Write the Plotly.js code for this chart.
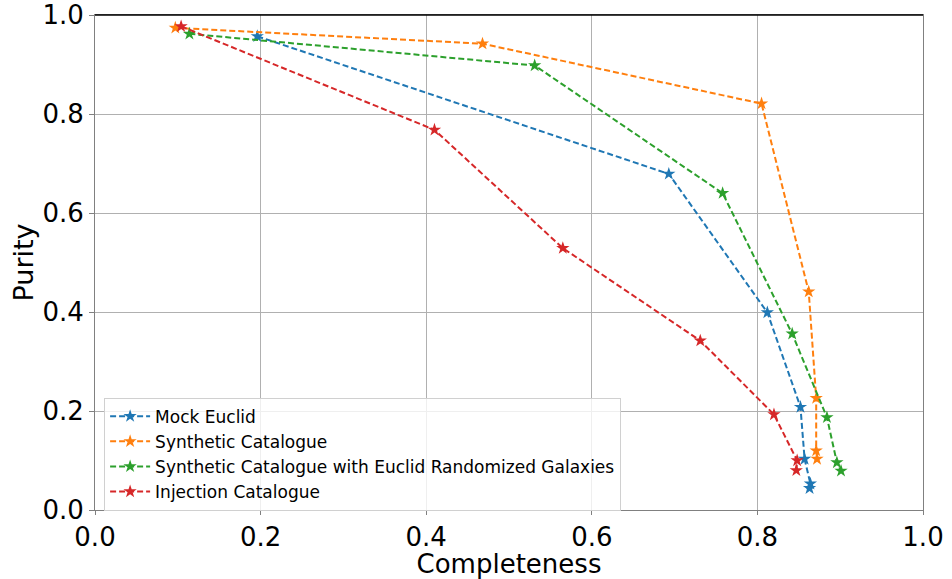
<!DOCTYPE html>
<html>
<head>
<meta charset="utf-8">
<script src="https://cdn.plot.ly/plotly-3.0.1.min.js"></script>
<style>html,body{margin:0;padding:0;background:#fff;}#chart{width:952px;height:579px;}</style>
</head>
<body>
<div id="chart"></div>
<script>
// Series names
const seriesNames = ["Mock Euclid", "Synthetic Catalogue", "Synthetic Catalogue with Euclid Randomized Galaxies", "Injection Catalogue"];
const seriesColors = ["#1f77b4", "#ff7f0e", "#2ca02c", "#d62728"];

// Completeness (x) and Purity (y) values
const mockX = [0.196, 0.693, 0.812, 0.852, 0.857, 0.864, 0.863];
const mockY = [0.957, 0.679, 0.399, 0.208, 0.103, 0.053, 0.044];

const synthX = [0.097, 0.468, 0.805, 0.862, 0.871, 0.871, 0.872];
const synthY = [0.974, 0.942, 0.821, 0.441, 0.226, 0.120, 0.103];

const synthRandX = [0.114, 0.531, 0.758, 0.842, 0.884, 0.896, 0.901];
const synthRandY = [0.962, 0.898, 0.640, 0.356, 0.187, 0.096, 0.079];

const injX = [0.104, 0.410, 0.565, 0.731, 0.820, 0.848, 0.847];
const injY = [0.977, 0.768, 0.529, 0.342, 0.193, 0.100, 0.080];

const xs = [mockX, synthX, synthRandX, injX];
const ys = [mockY, synthY, synthRandY, injY];

const xTicks = [0, 0.2, 0.4, 0.6, 0.8, 1.0];
const xTickText = ["0.0", "0.2", "0.4", "0.6", "0.8", "1.0"];
const yTicks = [0, 0.2, 0.4, 0.6, 0.8, 1.0];
const yTickText = ["0.0", "0.2", "0.4", "0.6", "0.8", "1.0"];

const traces = seriesNames.map((name, i) => ({
  type: 'scatter',
  mode: 'lines+markers',
  name: name,
  x: xs[i],
  y: ys[i],
  line: {color: seriesColors[i], width: 2, dash: '6px,3px'},
  marker: {symbol: 'star', size: 10, color: seriesColors[i], line: {width: 0}},
  cliponaxis: false
}));

const font = "DejaVu Sans, sans-serif";

const layout = {
  width: 952,
  height: 579,
  margin: {l: 95, r: 29, t: 15, b: 69},
  paper_bgcolor: '#ffffff',
  plot_bgcolor: '#ffffff',
  font: {family: font, color: '#000'},
  showlegend: true,
  legend: {
    x: 0.011, y: 0.227, xanchor: 'left', yanchor: 'top',
    bgcolor: 'rgba(255,255,255,0.8)',
    bordercolor: '#d0d0d0', borderwidth: 1,
    font: {family: font, size: 17, color: '#000'},
    tracegroupgap: 0,
    itemwidth: 40
  },
  xaxis: {
    range: [0, 1],
    tickvals: xTicks, ticktext: xTickText,
    tickfont: {family: font, size: 26},
    title: {text: 'Completeness', font: {family: font, size: 26}, standoff: 2},
    showgrid: true, gridcolor: '#b0b0b0', gridwidth: 1,
    zeroline: false,
    showline: true, linecolor: '#808080', linewidth: 1, mirror: true,
    ticks: 'outside', ticklen: 4, tickcolor: '#808080',
    fixedrange: true
  },
  yaxis: {
    range: [0, 1],
    tickvals: yTicks, ticktext: yTickText,
    tickfont: {family: font, size: 26},
    title: {text: 'Purity', font: {family: font, size: 27}, standoff: 0},
    showgrid: true, gridcolor: '#b0b0b0', gridwidth: 1,
    zeroline: false,
    showline: true, linecolor: '#808080', linewidth: 1, mirror: true,
    ticks: 'outside', ticklen: 5, tickcolor: '#808080',
    fixedrange: true
  },
  shapes: [{
    type: 'line', xref: 'paper', yref: 'paper',
    x0: 0, x1: 1, y0: 1, y1: 1,
    line: {color: '#000', width: 1.5}
  }]
};

Plotly.newPlot('chart', traces, layout, {displayModeBar: false, staticPlot: true});
</script>
</body>
</html>
